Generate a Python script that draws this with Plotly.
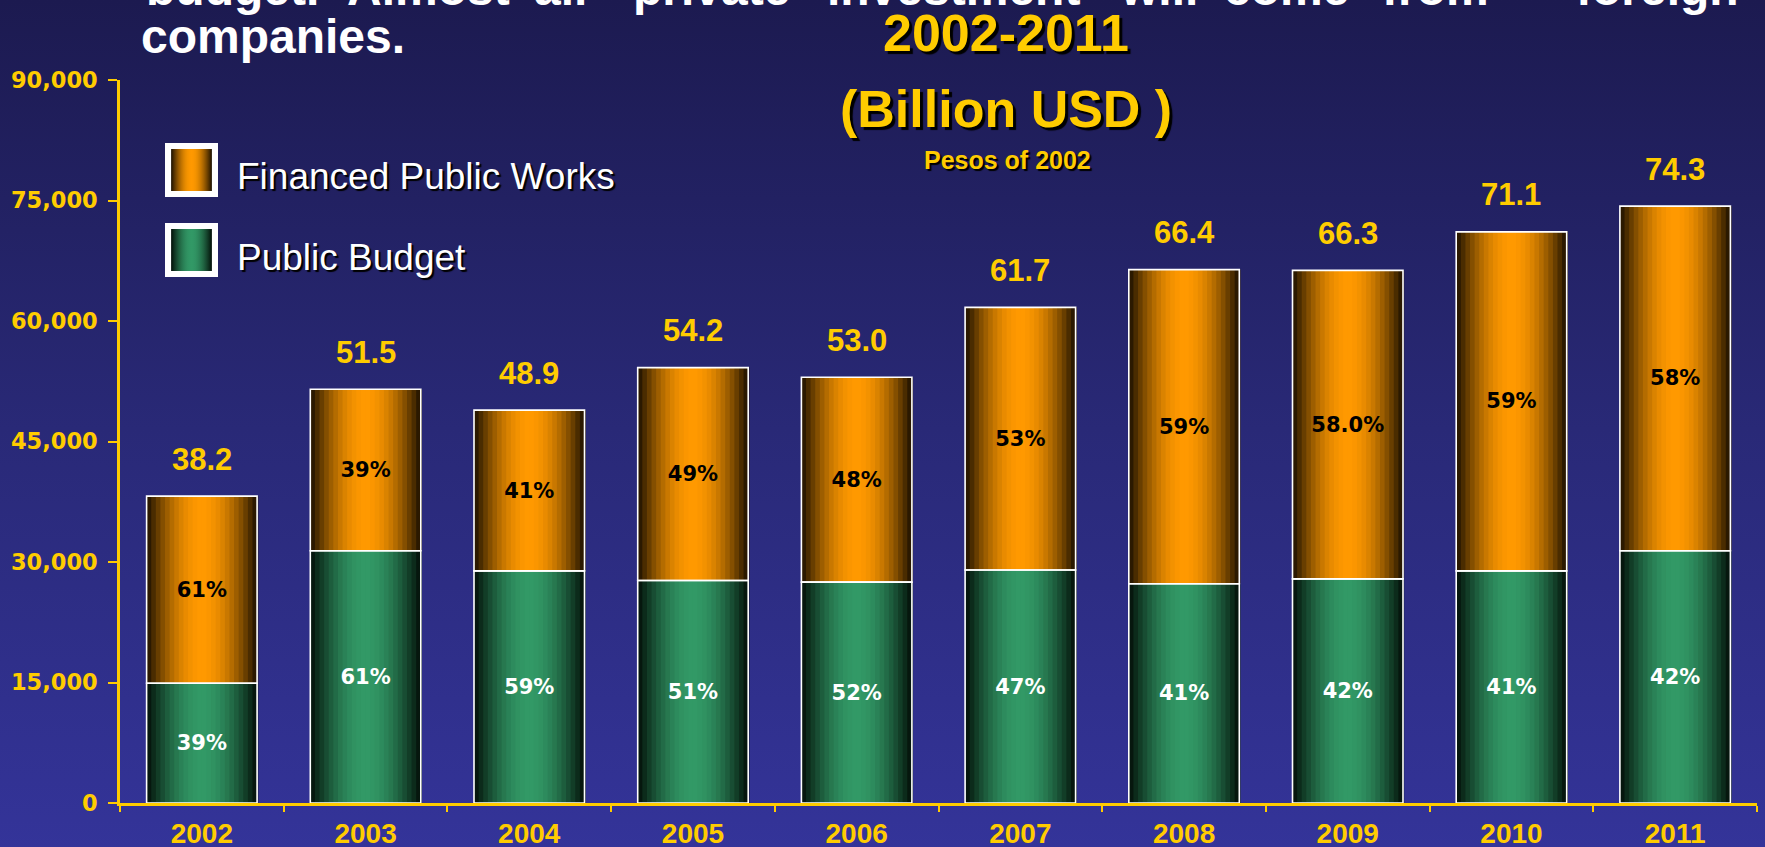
import base64
import math
import plotly.graph_objects as go

# ---------------- data ----------------
years = ["2002", "2003", "2004", "2005", "2006", "2007", "2008", "2009", "2010", "2011"]
public_budget = [14900, 31400, 28900, 27700, 27500, 29000, 27300, 27900, 28900, 31400]
financed_works = [23300, 20100, 20000, 26500, 25500, 32700, 39100, 38400, 42200, 42900]
total_labels = ["38.2", "51.5", "48.9", "54.2", "53.0", "61.7", "66.4", "66.3", "71.1", "74.3"]
pct_budget = ["39%", "61%", "59%", "51%", "52%", "47%", "41%", "42%", "41%", "42%"]
pct_works = ["61%", "39%", "41%", "49%", "48%", "53%", "59%", "58.0%", "59%", "58%"]
y_ticks = [0, 15000, 30000, 45000, 60000, 75000, 90000]
legend_names = ["Financed Public Works", "Public Budget"]

# ---------------- layout geometry ----------------
W, H = 1765, 847
L, R, T, B = 120, 8, 80, 44
PW, PH = W - L - R, H - T - B
YELLOW = "#FFCC00"


def px2x(px):
    return (px - L) / PW


def py2y(py):
    return (H - B - py) / PH


def hex2rgb(h):
    h = h.lstrip("#")
    return tuple(int(h[i:i + 2], 16) for i in (0, 2, 4))


def mix(c1, c2, f):
    a, b = hex2rgb(c1), hex2rgb(c2)
    return "#%02x%02x%02x" % tuple(int(round(a[i] + (b[i] - a[i]) * f)) for i in range(3))


def shade(t):
    # brightness across the width of a bar (dark edges, bright centre)
    return math.sin(math.pi * t) ** 0.95


ORANGE_DARK, ORANGE_BRIGHT = "#1a0f00", "#ff9900"
GREEN_DARK, GREEN_BRIGHT = "#020d07", "#329966"


def svg_uri(svg):
    return "data:image/svg+xml;base64," + base64.b64encode(svg.encode()).decode()


def swatch_svg(dark, bright):
    stops = "".join(
        "<stop offset='%.3f' stop-color='%s'/>" % (i / 20, mix(dark, bright, shade(i / 20)))
        for i in range(21)
    )
    return svg_uri(
        "<svg xmlns='http://www.w3.org/2000/svg' width='52' height='54' preserveAspectRatio='none'>"
        "<defs><linearGradient id='g' x1='0' y1='0' x2='1' y2='0'>" + stops + "</linearGradient></defs>"
        "<rect x='0' y='0' width='52' height='54' fill='white'/>"
        "<rect x='6' y='6' width='40' height='42' fill='url(#g)'/></svg>"
    )


bg_svg = svg_uri(
    "<svg xmlns='http://www.w3.org/2000/svg' width='1765' height='847' preserveAspectRatio='none'>"
    "<defs><linearGradient id='g' x1='0' y1='0' x2='0' y2='1'>"
    "<stop offset='0' stop-color='#1c1a50'/><stop offset='0.5' stop-color='#292977'/>"
    "<stop offset='1' stop-color='#34349a'/></linearGradient></defs>"
    "<rect width='1765' height='847' fill='url(#g)'/></svg>"
)

fig = go.Figure()

BAR_W = 0.675
N = 24
strip = BAR_W / N

# gradient strips for both stacked segments
for series, base, dark, bright in [
    (public_budget, None, GREEN_DARK, GREEN_BRIGHT),
    (financed_works, public_budget, ORANGE_DARK, ORANGE_BRIGHT),
]:
    for i in range(N):
        t = (i + 0.5) / N
        fig.add_trace(go.Bar(
            x=years, y=series, base=base,
            width=strip * 1.25, offset=-BAR_W / 2 + i * strip,
            marker=dict(color=mix(dark, bright, shade(t)), line=dict(width=0)),
            showlegend=False, hoverinfo="skip",
        ))

# outlines + percentage labels
fig.add_trace(go.Bar(
    x=years, y=public_budget, width=BAR_W,
    marker=dict(color="rgba(0,0,0,0)", line=dict(color="white", width=1.6)),
    text=pct_budget, textposition="inside", insidetextanchor="middle", textangle=0,
    textfont=dict(family="DejaVu Sans", size=21, color="white", weight="bold"),
    showlegend=False, hoverinfo="skip", name=legend_names[1],
))
fig.add_trace(go.Bar(
    x=years, y=financed_works, base=public_budget, width=BAR_W,
    marker=dict(color="rgba(0,0,0,0)", line=dict(color="white", width=1.6)),
    text=pct_works, textposition="inside", insidetextanchor="middle", textangle=0,
    textfont=dict(family="DejaVu Sans", size=21, color="black", weight="bold"),
    showlegend=False, hoverinfo="skip", name=legend_names[0],
))

annotations = []
# totals above bars (x given as category index)
for i, (b, w, lab) in enumerate(zip(public_budget, financed_works, total_labels)):
    annotations.append(dict(
        x=i, y=b + w, xref="x", yref="y", text=lab, showarrow=False,
        xanchor="center", yanchor="middle", yshift=37,
        font=dict(family="Liberation Sans", size=31, color=YELLOW, weight="bold"),
    ))

# header text (justified first line, partly cut off)
line1 = [("budget.", 232), ("Almost", 428), ("all", 560), ("private", 711),
         ("investment", 953), ("will", 1159), ("come", 1286), ("from", 1435), ("foreign", 1657)]
for word, cx in line1:
    annotations.append(dict(
        x=px2x(cx), y=py2y(-12), xref="paper", yref="paper", text=word, showarrow=False,
        xanchor="center", yanchor="middle",
        font=dict(family="Liberation Sans", size=48, color="white", weight="bold"),
    ))
annotations.append(dict(
    x=px2x(139), y=py2y(37), xref="paper", yref="paper", text="companies.", showarrow=False,
    xanchor="left", yanchor="middle",
    font=dict(family="Liberation Sans", size=48, color="white", weight="bold"),
))

# titles
title_shadow = "3px 3px 1px #000000"
annotations.append(dict(
    x=px2x(1006), y=py2y(33), xref="paper", yref="paper", text="2002-2011", showarrow=False,
    xanchor="center", yanchor="middle",
    font=dict(family="Liberation Sans", size=52, color=YELLOW, weight="bold", shadow=title_shadow),
))
annotations.append(dict(
    x=px2x(1006), y=py2y(109), xref="paper", yref="paper", text="(Billion USD )", showarrow=False,
    xanchor="center", yanchor="middle",
    font=dict(family="Liberation Sans", size=52, color=YELLOW, weight="bold", shadow=title_shadow),
))
annotations.append(dict(
    x=px2x(1007), y=py2y(160), xref="paper", yref="paper", text="Pesos of 2002", showarrow=False,
    xanchor="center", yanchor="middle",
    font=dict(family="Liberation Sans", size=25, color=YELLOW, weight="bold",
              shadow="2px 2px 1px #000000"),
))

# legend text
for name, cy in [(legend_names[0], 177), (legend_names[1], 257)]:
    annotations.append(dict(
        x=px2x(235), y=py2y(cy), xref="paper", yref="paper", text=name, showarrow=False,
        xanchor="left", yanchor="middle",
        font=dict(family="Liberation Sans", size=37, color="white", shadow="2px 2px 1px #000000"),
    ))

images = [
    dict(source=bg_svg, xref="paper", yref="paper", x=px2x(0), y=py2y(0),
         sizex=W / PW, sizey=(H + 10) / PH, sizing="stretch", xanchor="left", yanchor="top",
         layer="below"),
    dict(source=swatch_svg(ORANGE_DARK, ORANGE_BRIGHT), xref="paper", yref="paper",
         x=px2x(165), y=py2y(143), sizex=53 / PW, sizey=54 / PH, sizing="stretch",
         xanchor="left", yanchor="top", layer="above"),
    dict(source=swatch_svg(GREEN_DARK, GREEN_BRIGHT), xref="paper", yref="paper",
         x=px2x(165), y=py2y(223), sizex=53 / PW, sizey=54 / PH, sizing="stretch",
         xanchor="left", yanchor="top", layer="above"),
]

fig.update_layout(
    width=W, height=H,
    margin=dict(l=L, r=R, t=T, b=B, pad=0, autoexpand=False),
    paper_bgcolor="#34349a",
    plot_bgcolor="rgba(0,0,0,0)",
    barmode="overlay",
    showlegend=False,
    annotations=annotations,
    images=images,
    xaxis=dict(
        type="category", categoryorder="array", categoryarray=years,
        range=[-0.5, len(years) - 0.5], automargin=False,
        showline=True, linecolor=YELLOW, linewidth=2.5,
        ticks="outside", tickson="boundaries", ticklen=6, tickwidth=2, tickcolor=YELLOW,
        tickfont=dict(family="Liberation Sans", size=28, color=YELLOW, weight="bold"),
        ticklabelstandoff=4,
        showgrid=False, zeroline=False,
    ),
    yaxis=dict(
        range=[0, 90000], tickvals=y_ticks, tickformat=",", automargin=False,
        showline=True, linecolor=YELLOW, linewidth=2.5,
        ticks="outside", ticklen=9, tickwidth=2, tickcolor=YELLOW,
        tickfont=dict(family="DejaVu Sans", size=22.5, color=YELLOW, weight="bold"),
        ticklabelstandoff=6,
        showgrid=False, zeroline=False,
    ),
)

fig.write_html("out.html", include_plotlyjs=True)
